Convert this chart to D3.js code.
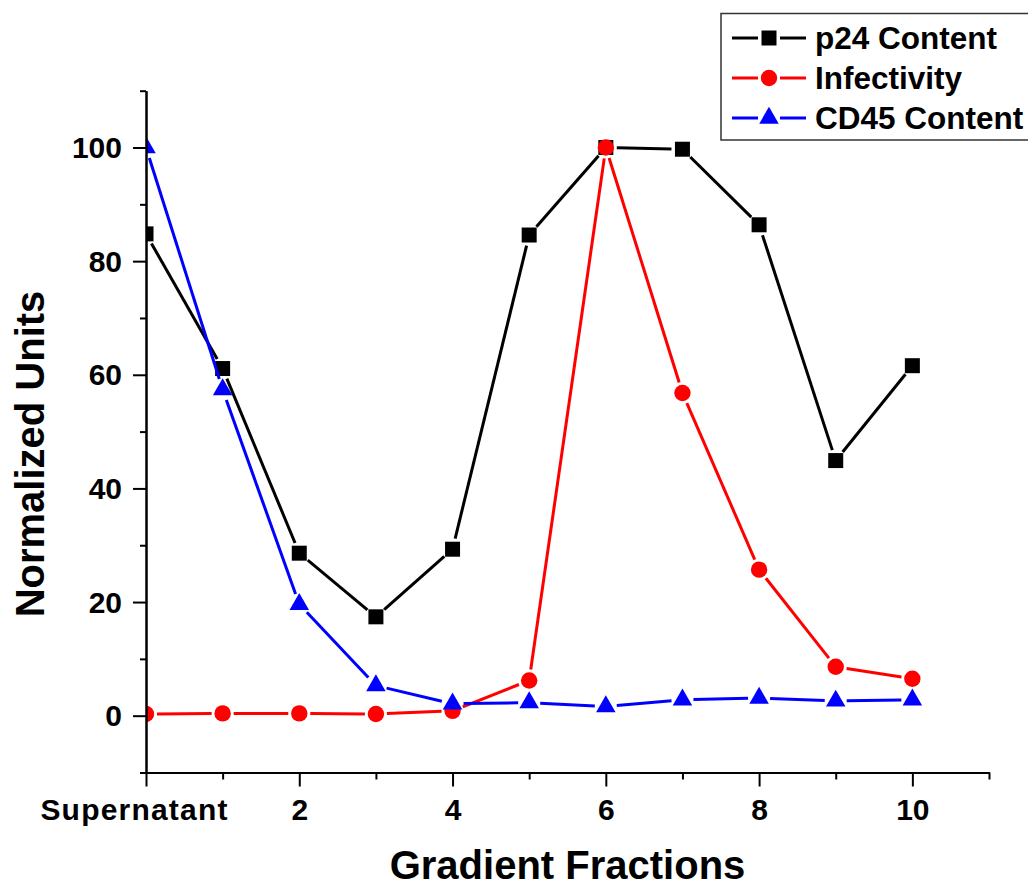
<!DOCTYPE html>
<html>
<head>
<meta charset="utf-8">
<script src="https://cdn.jsdelivr.net/npm/d3@7"></script>
<style>
  html, body { margin: 0; padding: 0; background: #fff; }
  svg { display: block; }
  text { font-family: "Liberation Sans", Arial, sans-serif; font-weight: bold; fill: #000; }
</style>
</head>
<body>
<svg id="chart" width="1028" height="886"></svg>
<script>
// Gradient fractions (0 = supernatant)
const fractions = [0, 1, 2, 3, 4, 5, 6, 7, 8, 9, 10];

// Normalized values per fraction
const p24Content  = [84.8, 61.1, 28.6, 17.4, 29.3, 84.6, 100, 99.7, 86.4, 44.9, 61.6];
const infectivity = [0.3, 0.4, 0.4, 0.3, 0.85, 6.2, 100, 56.8, 25.7, 8.6, 6.5];
const cd45Content = [100, 57.4, 19.6, 5.3, 2.1, 2.3, 1.6, 2.8, 3.1, 2.6, 2.8];

// Axis ticks
const xMajorTicks = [0, 2, 4, 6, 8, 10];
const xMinorTicks = [1, 3, 5, 7, 9, 11];
const xTickLabels = ["Supernatant", "2", "4", "6", "8", "10"];
const yMajorTicks = [0, 20, 40, 60, 80, 100];
const yMinorTicks = [-10, 10, 30, 50, 70, 90, 110];

const seriesNames = ["p24 Content", "Infectivity", "CD45 Content"];
const seriesColors = ["#000000", "#ff0000", "#0000ff"];
const seriesShapes = ["square", "circle", "triangle"];
const seriesValues = [p24Content, infectivity, cd45Content];

const svg = d3.select("#chart");

const x = d3.scaleLinear().domain([0, 11]).range([146, 989]);
const y = d3.scaleLinear().domain([-10, 110]).range([772.5, 90.7]);

// Marker generators
function markerPath(shape) {
  if (shape === "square") return d3.symbol(d3.symbolSquare, 15 * 15)();
  if (shape === "circle") return d3.symbol(d3.symbolCircle, Math.PI * 8.2 * 8.2)();
  return d3.symbol(d3.symbolTriangle, Math.sqrt(3) / 4 * 19.5 * 19.5)();
}

// Plot area clip (markers at the left edge are cut by the axis)
svg.append("defs").append("clipPath").attr("id", "plotClip")
  .append("rect")
  .attr("x", x(0)).attr("y", 0)
  .attr("width", 1028 - x(0)).attr("height", y(-10));

const plot = svg.append("g").attr("clip-path", "url(#plotClip)");

const gap = 11; // space left between line segments and markers

seriesValues.forEach((vals, si) => {
  const g = plot.append("g");
  const pts = fractions.map((f, i) => [x(f), y(vals[i])]);
  const segs = d3.pairs(pts);
  g.selectAll("line").data(segs).join("line")
    .each(function ([a, b]) {
      const dx = b[0] - a[0], dy = b[1] - a[1];
      const len = Math.hypot(dx, dy);
      const ux = dx / len, uy = dy / len;
      const s = Math.min(gap, len / 2);
      d3.select(this)
        .attr("x1", a[0] + ux * s).attr("y1", a[1] + uy * s)
        .attr("x2", b[0] - ux * s).attr("y2", b[1] - uy * s);
    })
    .attr("stroke", seriesColors[si])
    .attr("stroke-width", 3);
  g.selectAll("path").data(pts).join("path")
    .attr("d", markerPath(seriesShapes[si]))
    .attr("transform", d => `translate(${d[0]},${d[1]})`)
    .attr("fill", seriesColors[si]);
});

// Axes
function styleAxis(g) {
  g.selectAll(".domain").attr("stroke", "#000").attr("stroke-width", 2);
  g.selectAll(".tick line").attr("stroke", "#000").attr("stroke-width", 2);
}

const yMinor = svg.append("g").attr("transform", `translate(${x(0)},0)`)
  .call(d3.axisLeft(y).tickValues(yMinorTicks).tickSize(6).tickSizeOuter(0).tickFormat(""));
styleAxis(yMinor);
const yMajor = svg.append("g").attr("transform", `translate(${x(0)},0)`)
  .call(d3.axisLeft(y).tickValues(yMajorTicks).tickSize(13).tickSizeOuter(0).tickPadding(11));
styleAxis(yMajor);
yMajor.selectAll(".tick text")
  .attr("font-family", "Liberation Sans, Arial, sans-serif")
  .attr("font-weight", "bold").attr("font-size", 30).attr("fill", "#000")
  .attr("dy", "0.34em");

const xMinor = svg.append("g").attr("transform", `translate(0,${y(-10)})`)
  .call(d3.axisBottom(x).tickValues(xMinorTicks).tickSize(7).tickSizeOuter(0).tickFormat(""));
styleAxis(xMinor);
const xMajor = svg.append("g").attr("transform", `translate(0,${y(-10)})`)
  .call(d3.axisBottom(x).tickValues(xMajorTicks).tickSize(14).tickSizeOuter(0)
    .tickPadding(12).tickFormat((d, i) => xTickLabels[i]));
styleAxis(xMajor);
xMajor.selectAll(".tick text")
  .attr("font-family", "Liberation Sans, Arial, sans-serif")
  .attr("font-weight", "bold").attr("font-size", 30).attr("fill", "#000")
  .attr("dy", "0.71em");
xMajor.selectAll(".tick text").filter((d, i) => i === 0)
  .attr("dx", -12).attr("letter-spacing", 1.2);

// Axis titles
svg.append("text")
  .attr("x", (x.range()[0] + x.range()[1]) / 2).attr("y", 879)
  .attr("text-anchor", "middle").attr("font-size", 40)
  .text("Gradient Fractions");

svg.append("text")
  .attr("transform", "translate(44,454) rotate(-90)")
  .attr("text-anchor", "middle").attr("font-size", 40)
  .text("Normalized Units");

// Legend
const legend = svg.append("g");
legend.append("rect")
  .attr("x", 721).attr("y", 13.5).attr("width", 320).attr("height", 126.5)
  .attr("fill", "#fff").attr("stroke", "#333").attr("stroke-width", 1.5);

seriesNames.forEach((name, si) => {
  const cy = 38 + si * 40;
  const row = legend.append("g");
  row.append("line").attr("x1", 732).attr("x2", 758).attr("y1", cy).attr("y2", cy)
    .attr("stroke", seriesColors[si]).attr("stroke-width", 3);
  row.append("line").attr("x1", 780).attr("x2", 806).attr("y1", cy).attr("y2", cy)
    .attr("stroke", seriesColors[si]).attr("stroke-width", 3);
  row.append("path").attr("d", markerPath(seriesShapes[si]))
    .attr("transform", `translate(769,${cy})`).attr("fill", seriesColors[si]);
  row.append("text").attr("x", 815).attr("y", cy).attr("dy", "0.36em")
    .attr("font-size", 31.5).text(name);
});
</script>
</body>
</html>
